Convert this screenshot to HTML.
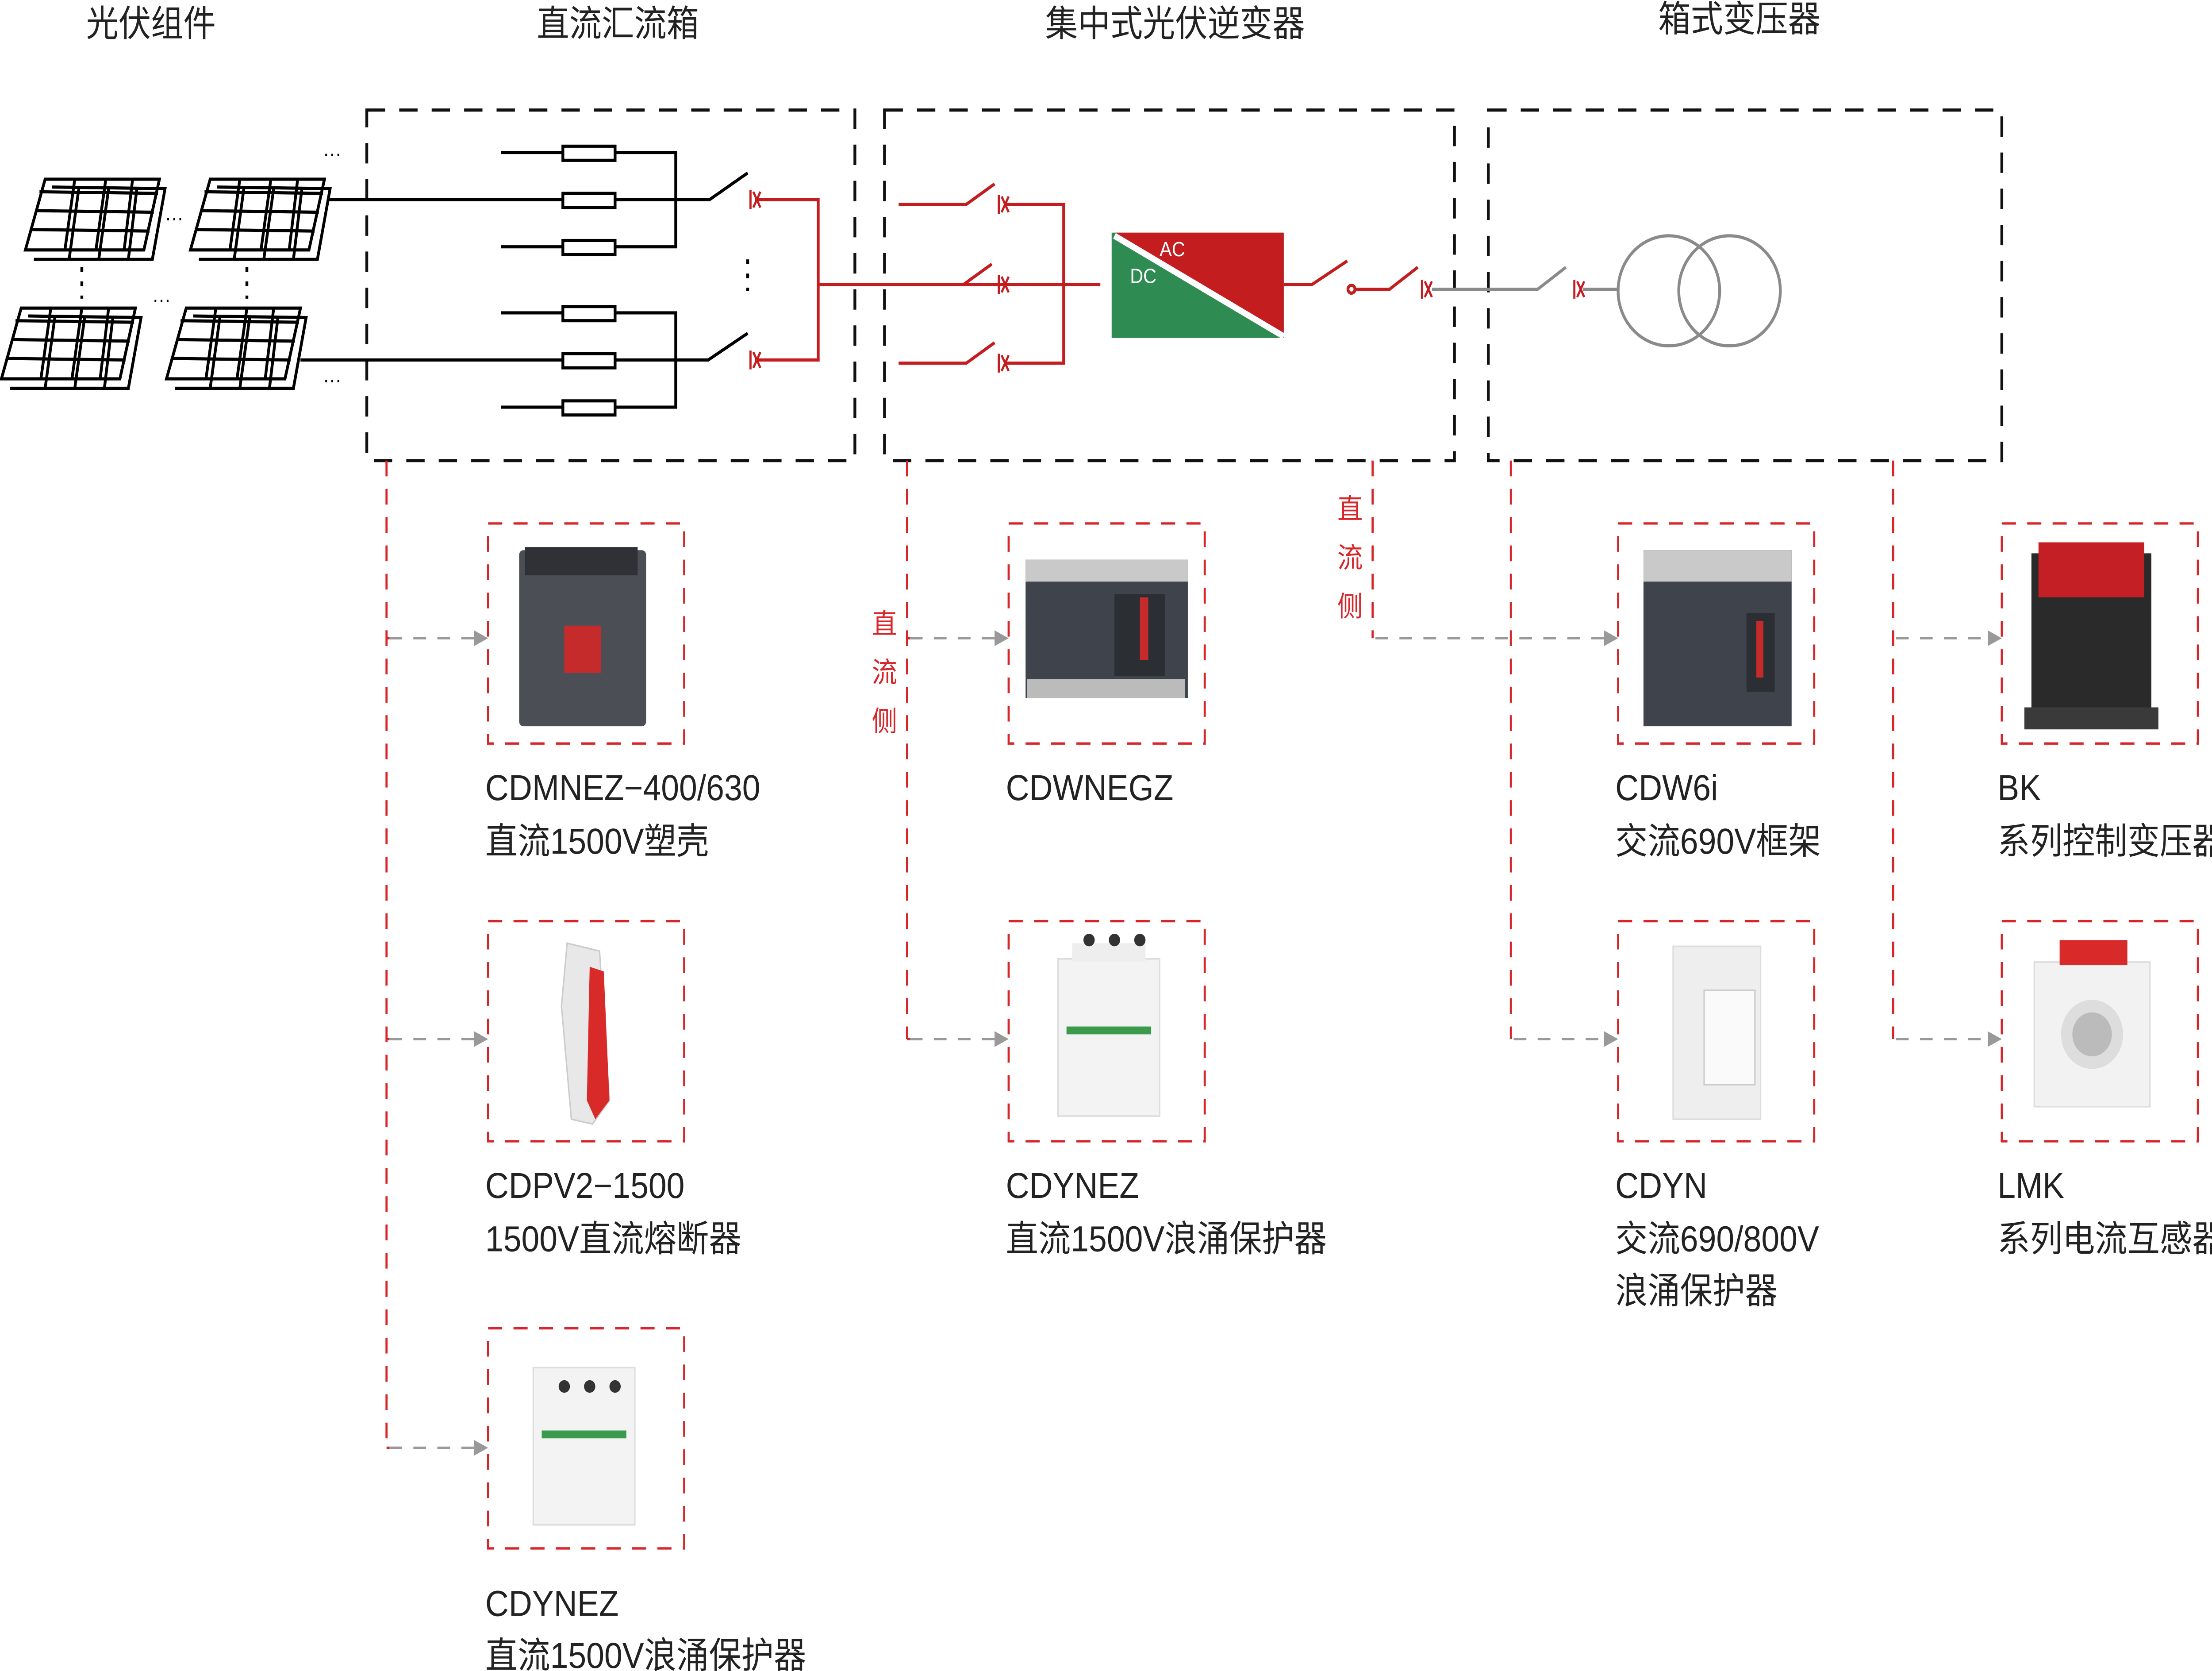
<!DOCTYPE html>
<html><head><meta charset="utf-8"><style>html,body{margin:0;padding:0;background:#fff;width:100%;height:100%;overflow:hidden}svg{display:block;width:100vw;height:100vh}</style></head><body>
<svg xmlns="http://www.w3.org/2000/svg" viewBox="0 0 1568 1063" preserveAspectRatio="none" font-family="'Liberation Sans','Noto Sans CJK SC',sans-serif">
<rect width="1568" height="1063" fill="#fff"/>
<g font-size="23" fill="#222" text-anchor="middle">
<text x="107" y="23">光伏组件</text><text x="438" y="23">直流汇流箱</text><text x="833" y="23">集中式光伏逆变器</text><text x="1233" y="20">箱式变压器</text>
</g>
<g fill="none" stroke="#111" stroke-width="2" stroke-dasharray="13 10">
<rect x="260" y="70" width="346" height="223"/><rect x="627" y="70" width="404" height="223"/><rect x="1055" y="70" width="364" height="223"/>
</g>
<defs>
<g id="pv" fill="none" stroke="#000" stroke-width="2">
<path d="M14 0 L95 0 L84 45 L0 45 Z"/><path d="M3 32 L88 33 M7 20 L91 21 M10 8 L94 9"/>
<path d="M35 0 L28 45 M57 0 L50 45 M76 0 L70 45"/>
<path d="M19 5 L99 6 L90 51 L6 51" /><path d="M38 5 L31 51 M59 6 L52 51 M79 6 L73 51"/>
</g>
</defs>
<use href="#pv" x="18" y="114"/><use href="#pv" x="135" y="114"/><use href="#pv" x="1" y="196"/><use href="#pv" x="118" y="196"/>
<g font-size="13" fill="#000"><text x="229" y="102">···</text><text x="117" y="143">···</text><text x="108" y="195">···</text><text x="229" y="246">···</text></g>
<g stroke="#000" stroke-width="2" stroke-dasharray="3 6"><path d="M58 170V190M175 170V190M530 165V185"/></g>
<g stroke="#000" stroke-width="2" fill="#fff">
<path d="M355 97H479V157H355M479 127H232M355 199H479V259H355M479 229H213" fill="none"/>
<path d="M479 127H503L530 110M479 229H502L530 212" fill="none"/>
<rect x="399" y="93" width="37" height="9"/><rect x="399" y="123" width="37" height="9"/><rect x="399" y="153" width="37" height="9"/>
<rect x="399" y="195" width="37" height="9"/><rect x="399" y="225" width="37" height="9"/><rect x="399" y="255" width="37" height="9"/>
</g>
<defs><g id="xm" stroke="#c31d20" stroke-width="1.5" fill="none"><path d="M0 -6V6M2 -5L7 5M7 -5L2 5"/></g></defs>
<g stroke="#c31d20" stroke-width="2" fill="none">
<path d="M535 127H580V229H535M580 181H780"/>
<path d="M637 130H685L705 117M637 181H683L703 168M637 231H685L705 218"/>
<path d="M712 130H754V231H712M712 181H754"/>
<path d="M910 181H930L955 166M960 184H985L1005 170"/>
<circle cx="958" cy="184" r="2.5"/>
</g>
<use href="#xm" x="532" y="127"/><use href="#xm" x="532" y="229"/><use href="#xm" x="708" y="130"/><use href="#xm" x="708" y="181"/><use href="#xm" x="708" y="231"/><use href="#xm" x="1008" y="184"/><use href="#xm" x="1116" y="184"/>
<rect x="788" y="148" width="122" height="67" fill="#2e8b52"/>
<path d="M790 148H910V213Z" fill="#c31d20"/>
<path d="M790 150L910 214" stroke="#fff" stroke-width="4"/>
<text x="822" y="163" font-size="13" fill="#fff">AC</text><text x="801" y="180" font-size="13" fill="#fff">DC</text>
<g stroke="#8a8a8a" stroke-width="2" fill="none"><path d="M1015 184H1090L1110 170M1122 184H1148"/>
<ellipse cx="1183" cy="185" rx="36" ry="35"/><ellipse cx="1226" cy="185" rx="36" ry="35"/></g>
<g stroke="#d7262a" stroke-width="1.5" fill="none" stroke-dasharray="10 8">
<path d="M274 293V921M274 406H290M274 661H290M274 921H290"/>
<path d="M643 293V661M643 406H660M643 661H660"/>
<path d="M973 293V406"/>
<path d="M1071 293V661M1342 293V661"/>
<rect x="346" y="333" width="139" height="140"/><rect x="346" y="586" width="139" height="140"/><rect x="346" y="845" width="139" height="140"/>
<rect x="715" y="333" width="139" height="140"/><rect x="715" y="586" width="139" height="140"/>
<rect x="1147" y="333" width="139" height="140"/><rect x="1147" y="586" width="139" height="140"/>
<rect x="1419" y="333" width="139" height="140"/><rect x="1419" y="586" width="139" height="140"/>
</g>
<g stroke="#999" stroke-width="1.5" fill="none" stroke-dasharray="9 8">
<path d="M276 406H336M276 661H336M276 921H336M645 406H705M645 661H705M975 406H1137M1073 661H1137M1344 406H1409M1344 661H1409"/>
</g>
<g fill="#999">
<path d="M346 406l-10-5v10z"/><path d="M346 661l-10-5v10z"/><path d="M346 921l-10-5v10z"/>
<path d="M715 406l-10-5v10z"/><path d="M715 661l-10-5v10z"/>
<path d="M1147 406l-10-5v10z"/><path d="M1147 661l-10-5v10z"/>
<path d="M1419 406l-10-5v10z"/><path d="M1419 661l-10-5v10z"/>
</g>
<g font-size="18" fill="#d7262a" text-anchor="middle">
<text x="627" y="403">直</text><text x="627" y="434">流</text><text x="627" y="465">侧</text>
<text x="957" y="330">直</text><text x="957" y="361">流</text><text x="957" y="392">侧</text>
</g>
<g>
<rect x="368" y="350" width="90" height="112" rx="3" fill="#4b4e55"/><rect x="372" y="348" width="80" height="18" fill="#2f3137"/>
<rect x="400" y="398" width="26" height="30" fill="#c62b2b"/>
<path d="M402 600 L425 605 L432 700 L420 715 L405 712 L398 640 Z" fill="#e8e8e8" stroke="#ccc"/>
<path d="M418 615 L428 618 L432 700 L422 712 L416 700 Z" fill="#d92a2a"/>
<rect x="750" y="610" width="72" height="100" fill="#f3f3f3" stroke="#ddd"/><rect x="760" y="600" width="52" height="12" fill="#eee"/>
<circle cx="772" cy="598" r="4" fill="#333"/><circle cx="790" cy="598" r="4" fill="#333"/><circle cx="808" cy="598" r="4" fill="#333"/>
<rect x="756" y="653" width="60" height="5" fill="#3b9a4c"/>
<rect x="378" y="870" width="72" height="100" fill="#f3f3f3" stroke="#ddd"/>
<circle cx="400" cy="882" r="4" fill="#333"/><circle cx="418" cy="882" r="4" fill="#333"/><circle cx="436" cy="882" r="4" fill="#333"/>
<rect x="384" y="910" width="60" height="5" fill="#3b9a4c"/>
<rect x="727" y="356" width="115" height="88" fill="#3f434b"/><rect x="727" y="356" width="115" height="14" fill="#c9c9c9"/>
<rect x="728" y="432" width="112" height="12" fill="#bbb"/><rect x="790" y="378" width="36" height="52" fill="#2b2e33"/><rect x="808" y="380" width="6" height="40" fill="#c62b2b"/>
<rect x="1165" y="350" width="105" height="112" fill="#3f434b"/><rect x="1165" y="350" width="105" height="20" fill="#c9c9c9"/>
<rect x="1238" y="390" width="20" height="50" fill="#2b2e33"/><rect x="1245" y="395" width="5" height="36" fill="#c62b2b"/>
<rect x="1186" y="602" width="62" height="110" fill="#eee" stroke="#ddd"/><rect x="1208" y="630" width="36" height="60" fill="#fafafa" stroke="#ccc"/>
<rect x="1440" y="352" width="85" height="108" fill="#2a2a2a"/><rect x="1445" y="345" width="75" height="35" fill="#c41f25"/>
<rect x="1435" y="450" width="95" height="14" fill="#3a3a3a"/>
<rect x="1442" y="612" width="82" height="92" fill="#f2f2f2" stroke="#ddd"/><rect x="1460" y="598" width="48" height="16" fill="#d92a2a"/>
<circle cx="1483" cy="658" r="22" fill="#ddd"/><circle cx="1483" cy="658" r="14" fill="#bbb"/>
</g>
<g font-size="23" fill="#222">
<text x="344" y="509">CDMNEZ−400/630</text><text x="344" y="543">直流1500V塑壳</text>
<text x="344" y="762">CDPV2−1500</text><text x="344" y="796">1500V直流熔断器</text>
<text x="344" y="1028">CDYNEZ</text><text x="344" y="1061">直流1500V浪涌保护器</text>
<text x="713" y="509">CDWNEGZ</text>
<text x="713" y="762">CDYNEZ</text><text x="713" y="796">直流1500V浪涌保护器</text>
<text x="1145" y="509">CDW6i</text><text x="1145" y="543">交流690V框架</text>
<text x="1145" y="762">CDYN</text><text x="1145" y="796">交流690/800V</text><text x="1145" y="829">浪涌保护器</text>
<text x="1416" y="509">BK</text><text x="1416" y="543">系列控制变压器</text>
<text x="1416" y="762">LMK</text><text x="1416" y="796">系列电流互感器</text>
</g>
</svg>
</body></html>
